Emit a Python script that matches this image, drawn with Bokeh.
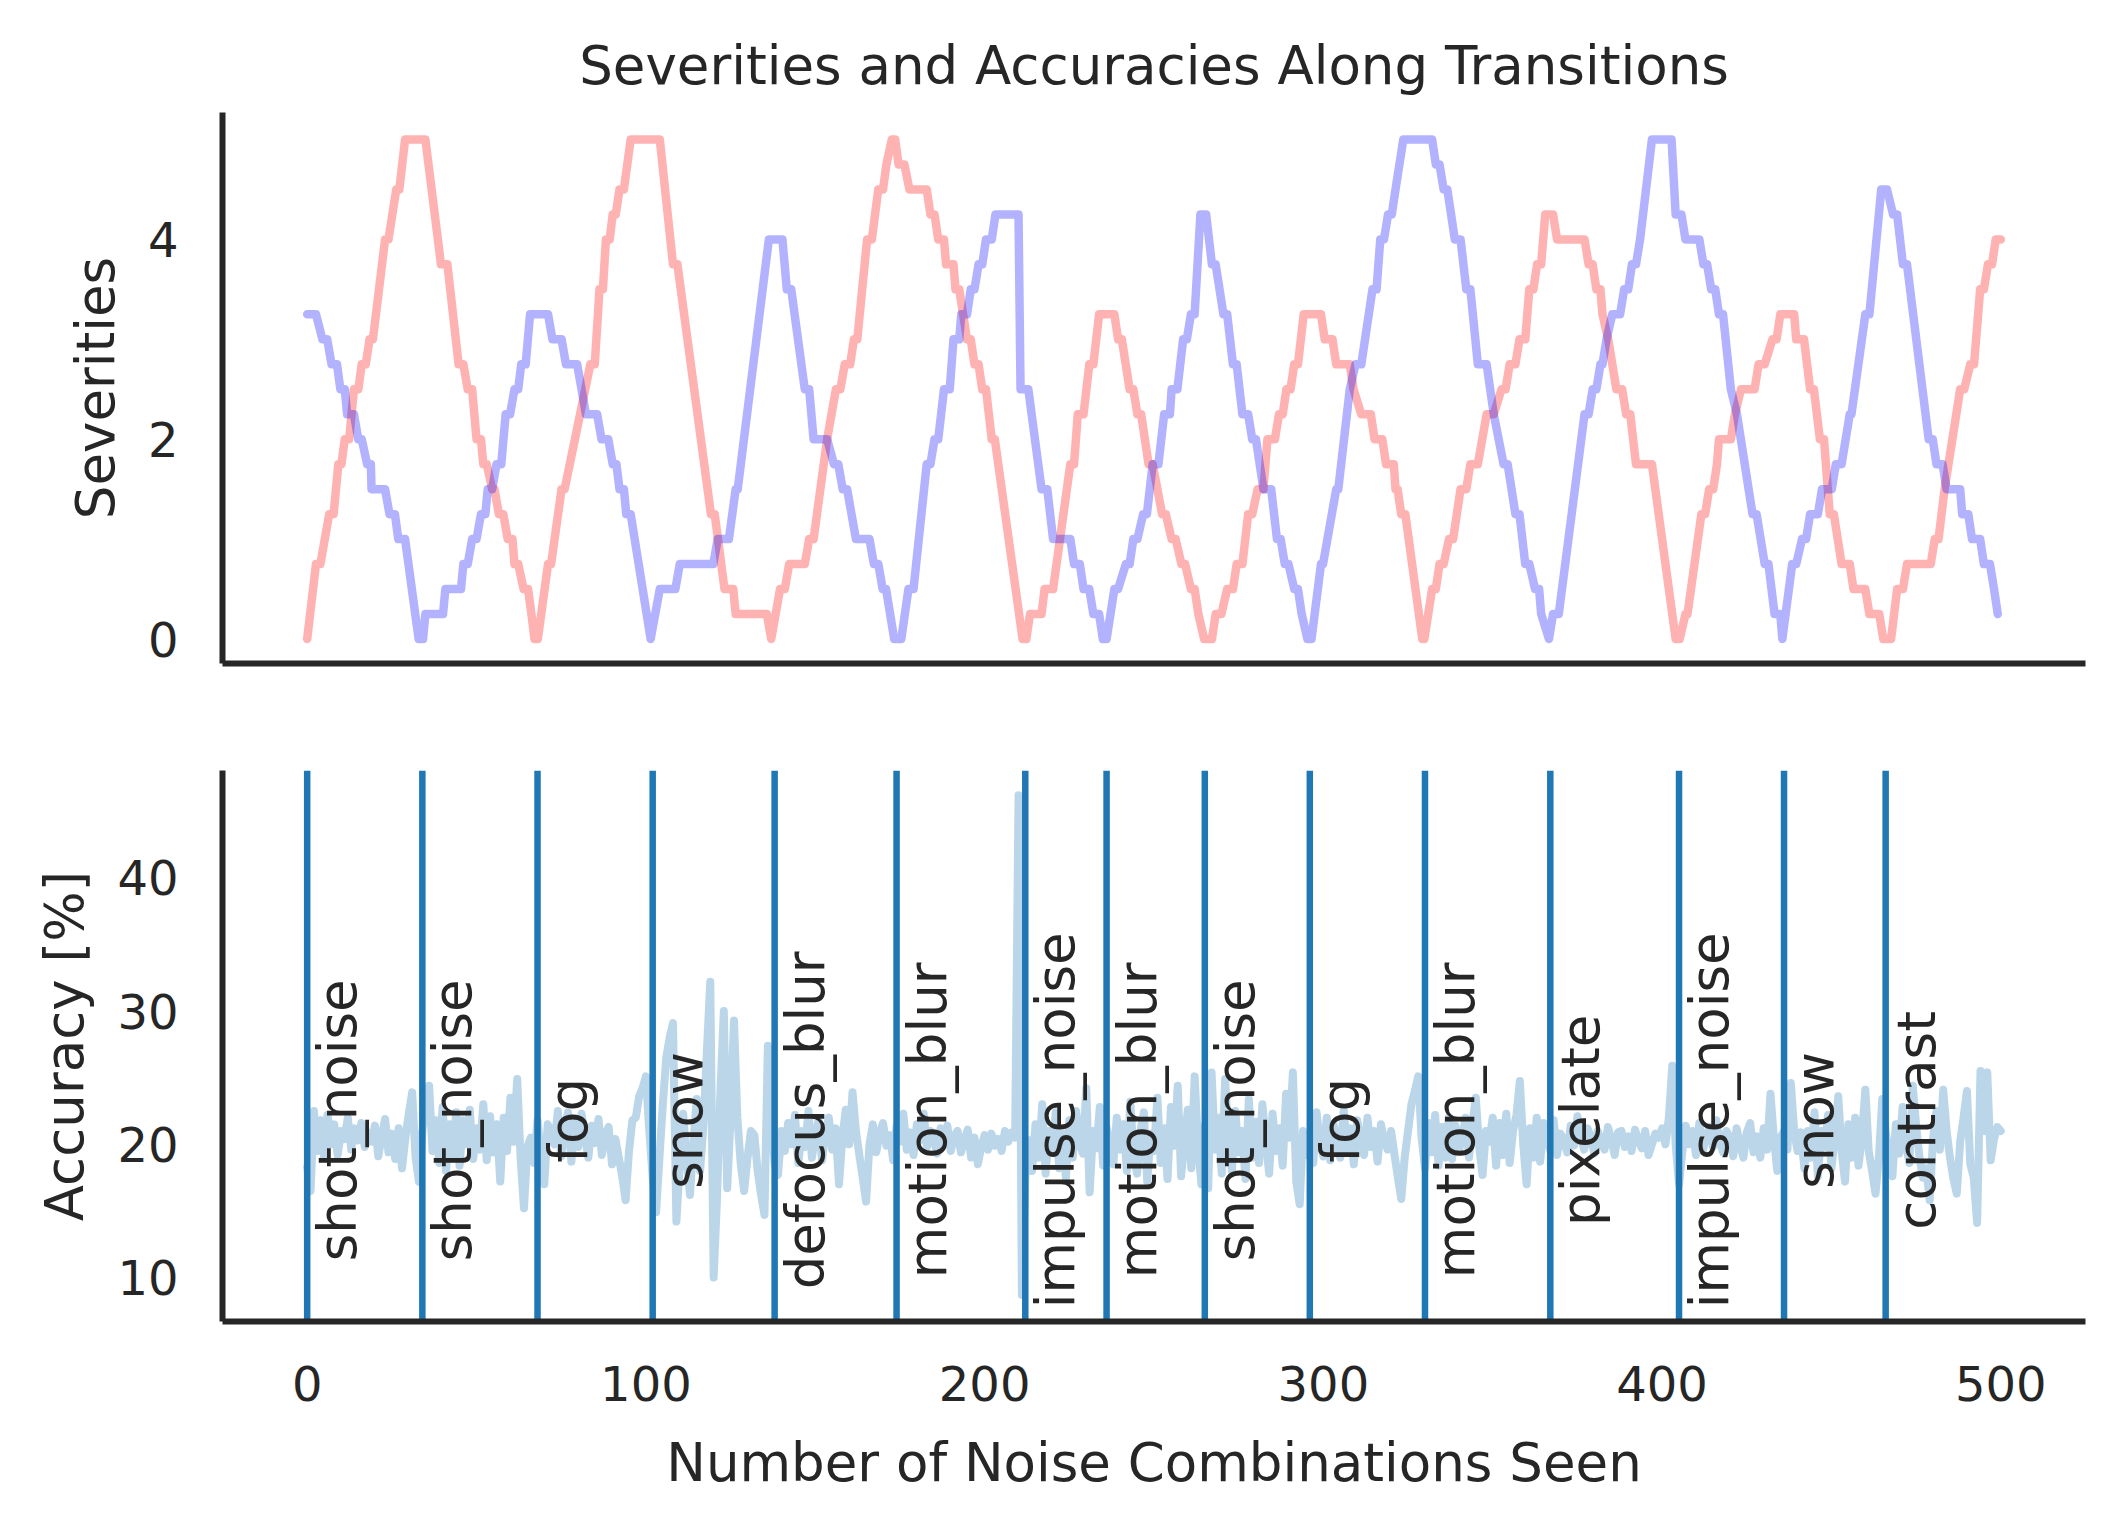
import math
from bokeh.plotting import figure
from bokeh.layouts import column
from bokeh.models import Range1d, FixedTicker
from bokeh.embed import file_html
from bokeh.resources import INLINE
from bokeh.core.properties import value

# ---------------- data ----------------
# severity curves as (x, severity) corner points of the step-like polylines
red_vertices = [
    (0, 0), (2.6, 0.75), (3.9, 0.75), (6.5, 1.25), (7.8, 1.25), (9.2, 1.75), (10.1, 1.75), (11.1, 2.0), (12.4, 2.0),
    (13.8, 2.5), (15.1, 2.5), (16.1, 2.75), (17.3, 2.75), (18.4, 3.0), (19.4, 3.0), (23.0, 4.0), (24.0, 4.0),
    (26.3, 4.5), (27.2, 4.5), (28.9, 5.0), (34.9, 5.0), (39.5, 3.75), (41.4, 3.75), (44.7, 2.75), (46.1, 2.75),
    (47.4, 2.5), (48.7, 2.5), (50.0, 2.0), (51.3, 2.0), (52.0, 1.75), (53.0, 1.75), (54.6, 1.5), (55.3, 1.5),
    (56.6, 1.25), (57.9, 1.25), (59.2, 1.0), (60.6, 1.0), (61.2, 0.75), (62.3, 0.75), (63.9, 0.5), (65.2, 0.5),
    (66.2, 0.25), (67.1, 0), (68.1, 0), (71.1, 0.75), (72.0, 0.75), (75.1, 1.5), (76.0, 1.5), (83.6, 2.75),
    (84.9, 2.75), (86.3, 3.5), (87.3, 3.5), (88.2, 4.0), (89.3, 4.0), (90.2, 4.25), (91.1, 4.25), (92.2, 4.5),
    (93.5, 4.5), (95.5, 5.0), (104.1, 5.0), (108.0, 3.75), (109.3, 3.75), (119.2, 1.25), (120.3, 1.25),
    (123.2, 0.5), (125.8, 0.5), (126.5, 0.25), (135.7, 0.25), (137.0, 0), (139.6, 0.5), (141.0, 0.5),
    (142.3, 0.75), (146.9, 0.75), (148.2, 1.0), (149.5, 1.0), (153.5, 2.0), (156.1, 2.5), (157.4, 2.5),
    (158.7, 2.75), (160.3, 2.75), (161.4, 3.0), (162.4, 3.0), (165.3, 4.0), (166.7, 4.0), (168.6, 4.5),
    (170.0, 4.5), (171.0, 4.75), (172.6, 5.0), (173.6, 5.0), (174.6, 4.75), (176.3, 4.75), (177.8, 4.5),
    (182.9, 4.5), (184.0, 4.25), (185.2, 4.25), (186.3, 4.0), (188.0, 4.0), (188.6, 3.75), (190.8, 3.75),
    (191.4, 3.5), (192.5, 3.5), (194.8, 3.0), (195.9, 3.0), (197.0, 2.75), (198.2, 2.75), (199.3, 2.5),
    (200.4, 2.5), (202.1, 2.0), (203.0, 2.0), (211.2, 0), (212.3, 0), (213.4, 0.25), (216.8, 0.25),
    (217.7, 0.5), (220.2, 0.5), (225.3, 1.75), (226.4, 1.75), (227.5, 2.25), (229.2, 2.25), (230.9, 2.75),
    (232.1, 2.75), (233.8, 3.25), (238.3, 3.25), (239.4, 3.0), (240.5, 3.0), (242.8, 2.5), (243.9, 2.5),
    (245.1, 2.25), (246.2, 2.25), (248.4, 1.75), (249.6, 1.75), (252.4, 1.25), (253.5, 1.25), (255.2, 1.0),
    (256.4, 1.0), (258.1, 0.75), (259.2, 0.75), (260.9, 0.5), (262.0, 0.5), (263.1, 0.25), (264.8, 0),
    (267.1, 0), (268.2, 0.25), (269.9, 0.25), (271.6, 0.5), (273.3, 0.5), (274.4, 0.75), (276.1, 0.75),
    (277.8, 1.25), (279.0, 1.25), (280.6, 1.5), (282.3, 1.5), (283.5, 2.0), (285.7, 2.0), (286.9, 2.25),
    (288.0, 2.25), (289.1, 2.5), (290.3, 2.5), (291.4, 2.75), (292.5, 2.75), (294.2, 3.25), (299.3, 3.25),
    (300.4, 3.0), (302.7, 3.0), (303.8, 2.75), (307.8, 2.75), (308.9, 2.5), (311.2, 2.25), (314.0, 2.25),
    (315.1, 2.0), (317.4, 2.0), (318.5, 1.75), (320.8, 1.75), (321.3, 1.5), (321.9, 1.5), (323.0, 1.25),
    (324.2, 1.25), (329.2, 0), (329.8, 0), (332.1, 0.5), (333.2, 0.5), (334.3, 0.75), (335.5, 0.75),
    (337.1, 1.0), (338.3, 1.0), (340.5, 1.5), (342.2, 1.5), (343.4, 1.75), (345.6, 1.75), (348.2, 2.25),
    (350.3, 2.25), (352.6, 2.5), (353.8, 2.5), (355.0, 2.75), (356.7, 2.75), (357.9, 3.0), (359.6, 3.0),
    (360.8, 3.5), (362.0, 3.5), (363.1, 3.75), (364.3, 3.75), (365.5, 4.25), (367.8, 4.25), (369.0, 4.0),
    (377.1, 4.0), (378.3, 3.75), (379.5, 3.75), (380.6, 3.5), (381.8, 3.5), (382.4, 3.25), (384.1, 3.0),
    (386.5, 2.5), (388.2, 2.5), (389.4, 2.25), (390.6, 2.25), (392.3, 1.75), (397.0, 1.75), (404.0, 0),
    (405.2, 0), (406.9, 0.25), (407.5, 0.25), (411.6, 1.25), (412.7, 1.25), (413.9, 1.5), (415.1, 1.5),
    (416.2, 1.75), (416.8, 2.0), (420.3, 2.0), (421.5, 2.25), (423.3, 2.5), (427.3, 2.5), (428.5, 2.75),
    (430.3, 2.75), (432.6, 3.0), (433.8, 3.0), (434.9, 3.25), (439.0, 3.25), (439.6, 3.0), (441.9, 3.0),
    (443.7, 2.5), (444.8, 2.5), (446.6, 2.0), (447.8, 2.0), (449.5, 1.25), (450.7, 1.25), (453.0, 0.75),
    (455.4, 0.75), (456.5, 0.5), (460.0, 0.5), (461.2, 0.25), (464.1, 0.25), (465.3, 0), (467.6, 0),
    (469.4, 0.5), (471.1, 0.5), (472.3, 0.75), (479.3, 0.75), (480.5, 1.0), (481.6, 1.0), (483.4, 1.5),
    (488.0, 2.5), (489.2, 2.5), (491.0, 2.75), (492.1, 2.75), (493.9, 3.5), (495.0, 3.5), (496.2, 3.75),
    (497.4, 3.75), (498.5, 4.0), (500.0, 4.0),
]

blue_vertices = [
    (0, 3.25), (2.6, 3.25), (4.5, 3.0), (5.9, 3.0), (7.2, 2.75), (8.8, 2.75), (9.8, 2.5), (11.1, 2.5),
    (11.8, 2.25), (13.8, 2.25), (15.1, 2.0), (16.1, 2.0), (17.7, 1.75), (18.8, 1.75), (19.0, 1.5), (23.0, 1.5),
    (24.3, 1.25), (25.9, 1.25), (26.9, 1.0), (28.9, 1.0), (32.9, 0), (34.2, 0), (34.9, 0.25), (40.1, 0.25),
    (40.8, 0.5), (45.4, 0.5), (46.1, 0.75), (47.4, 0.75), (48.7, 1.0), (50.0, 1.0), (51.3, 1.25), (52.6, 1.25),
    (53.3, 1.5), (54.6, 1.5), (55.9, 1.75), (57.3, 1.75), (58.6, 2.25), (59.9, 2.25), (61.2, 2.5), (62.3, 2.5),
    (63.2, 2.75), (64.5, 2.75), (65.8, 3.25), (71.1, 3.25), (72.4, 3.0), (75.1, 3.0), (76.4, 2.75),
    (79.7, 2.75), (81.0, 2.5), (82.3, 2.25), (85.6, 2.25), (86.9, 2.0), (88.9, 2.0), (90.2, 1.75),
    (91.3, 1.75), (92.2, 1.5), (93.5, 1.5), (94.2, 1.25), (95.5, 1.25), (101.4, 0), (104.1, 0.5),
    (108.7, 0.5), (110.0, 0.75), (119.9, 0.75), (121.2, 1.0), (124.5, 1.0), (126.5, 1.5), (127.1, 1.5),
    (136.3, 4.0), (140.3, 4.0), (141.6, 3.5), (142.9, 3.5), (146.9, 2.5), (148.2, 2.5), (149.5, 2.0),
    (153.5, 2.0), (155.5, 1.75), (156.8, 1.75), (158.1, 1.5), (159.4, 1.5), (160.7, 1.25), (162.0, 1.0),
    (166.0, 1.0), (167.3, 0.75), (168.6, 0.75), (169.9, 0.5), (170.9, 0.5), (173.3, 0), (175.4, 0),
    (177.5, 0.5), (179.0, 0.5), (182.9, 1.75), (184.0, 1.75), (185.2, 2.0), (186.3, 2.0), (188.0, 2.5),
    (189.7, 2.5), (190.8, 3.0), (192.5, 3.0), (193.1, 3.25), (194.8, 3.25), (195.9, 3.5), (197.0, 3.5),
    (198.2, 3.75), (199.3, 3.75), (200.4, 4.0), (202.1, 4.0), (203.2, 4.25), (210.0, 4.25), (210.6, 2.5),
    (212.9, 2.5), (216.8, 1.5), (218.5, 1.5), (220.2, 1.0), (225.3, 1.0), (226.4, 0.75), (228.1, 0.75),
    (229.2, 0.5), (230.9, 0.5), (232.1, 0.25), (233.8, 0.25), (234.9, 0), (236.0, 0), (238.3, 0.5),
    (239.4, 0.5), (241.7, 0.75), (242.8, 0.75), (243.9, 1.0), (245.1, 1.0), (246.8, 1.25), (247.9, 1.25),
    (249.6, 1.75), (251.3, 1.75), (253.0, 2.25), (254.7, 2.25), (255.2, 2.5), (256.9, 2.5), (258.6, 3.0),
    (259.7, 3.0), (260.9, 3.25), (262.0, 3.25), (263.7, 4.25), (265.4, 4.25), (267.1, 3.75), (268.2, 3.75),
    (270.5, 3.25), (271.6, 3.25), (273.3, 2.75), (274.4, 2.75), (276.1, 2.25), (277.8, 2.25), (279.0, 2.0),
    (280.1, 2.0), (282.3, 1.5), (284.6, 1.5), (286.3, 1.0), (287.4, 1.0), (288.6, 0.75), (289.7, 0.75),
    (291.4, 0.5), (292.5, 0.5), (293.6, 0.25), (295.3, 0), (296.5, 0), (299.3, 0.75), (299.9, 0.75),
    (303.8, 1.5), (304.4, 1.5), (307.8, 2.5), (309.5, 2.75), (311.2, 2.75), (314.5, 3.5), (315.7, 3.5),
    (316.8, 4.0), (317.9, 4.0), (319.1, 4.25), (320.2, 4.25), (321.3, 4.5), (323.6, 5.0), (332.1, 5.0),
    (333.2, 4.75), (334.3, 4.75), (335.5, 4.5), (336.6, 4.5), (338.8, 4.0), (340.5, 4.0), (342.2, 3.5),
    (343.4, 3.5), (345.6, 2.75), (348.2, 2.75), (350.3, 2.25), (353.2, 1.75), (354.4, 1.75), (356.7, 1.25),
    (357.9, 1.25), (359.6, 0.75), (360.8, 0.75), (362.5, 0.5), (363.7, 0.5), (364.3, 0.25), (366.6, 0),
    (367.8, 0.25), (369.5, 0.25), (377.1, 2.25), (378.3, 2.25), (379.5, 2.5), (380.6, 2.5), (381.8, 2.75),
    (382.4, 2.75), (383.6, 3.0), (385.3, 3.25), (387.6, 3.25), (388.8, 3.5), (390.0, 3.5), (391.1, 3.75),
    (392.3, 3.75), (393.5, 4.0), (397.0, 5.0), (402.8, 5.0), (404.0, 4.25), (405.7, 4.25), (406.9, 4.0),
    (411.0, 4.0), (412.2, 3.75), (413.3, 3.75), (414.5, 3.5), (415.7, 3.5), (416.8, 3.25), (418.0, 3.25),
    (420.3, 2.5), (422.1, 2.25), (426.7, 1.25), (427.9, 1.25), (430.3, 0.75), (431.4, 0.75), (433.2, 0.25),
    (434.9, 0.25), (435.5, 0), (438.4, 0.75), (439.6, 0.75), (441.3, 1.0), (442.5, 1.0), (443.7, 1.25),
    (446.0, 1.25), (447.2, 1.5), (450.1, 1.5), (451.3, 1.75), (453.0, 1.75), (455.4, 2.25), (455.9, 2.25),
    (460.0, 3.25), (461.2, 3.25), (464.7, 4.5), (466.4, 4.5), (468.2, 4.25), (469.4, 4.25), (471.1, 3.75),
    (472.3, 3.75), (478.7, 2.0), (479.9, 2.0), (481.0, 1.75), (482.8, 1.75), (484.0, 1.5), (488.0, 1.5),
    (488.6, 1.25), (490.4, 1.25), (491.5, 1.0), (493.9, 1.0), (495.0, 0.75), (496.8, 0.75), (498.0, 0.5),
    (499.1, 0.25),
]

# accuracy [%] after each noise combination (index 0..500)
accuracy = [
    18.3, 16.5, 22.5, 19.5, 21.8, 19.0, 22.2, 20.0, 21.5, 19.2, 21.0, 20.4, 22.0, 19.6, 21.2, 20.3, 21.6, 19.8, 20.9, 20.2,
    21.4, 19.1, 20.6, 21.9, 19.4, 20.8, 18.9, 21.2, 18.2, 20.5, 22.3, 23.9, 19.0, 17.2, 21.0, 23.0, 24.4, 19.5, 21.8, 18.6,
    22.8, 18.0, 21.5, 19.2, 22.4, 18.4, 21.8, 20.0, 22.6, 18.9, 21.2, 19.6, 23.0, 18.8, 22.1, 19.4, 21.5, 17.2, 22.0, 19.5,
    23.5, 20.2, 24.9, 19.0, 15.2, 19.8, 20.5, 18.6, 21.8, 19.2, 17.0, 21.5, 21.0, 20.0, 22.5, 19.1, 21.3, 22.4, 18.7, 21.8,
    19.8, 22.3, 20.6, 19.0, 21.4, 20.1, 21.9, 19.2, 20.8, 21.3, 18.5, 20.4, 19.0, 17.6, 15.8, 19.5, 21.8, 22.0, 23.6, 24.2,
    25.1, 21.0, 17.5, 14.9, 19.0, 23.0, 26.5, 28.0, 29.1, 14.2, 18.5, 22.3, 19.0, 16.2, 20.0, 23.4, 18.0, 21.5, 27.0, 32.2,
    10.0, 16.0, 24.0, 30.0, 16.7, 22.0, 29.3, 22.0, 18.5, 16.5, 19.0, 21.0, 20.7, 18.0, 16.2, 14.7, 27.4, 22.0, 18.5, 17.7,
    21.0, 19.5, 21.6, 20.0, 22.2, 18.6, 21.0, 19.8, 22.5, 19.0, 20.6, 21.8, 18.8, 20.9, 22.0, 19.6, 21.2, 17.0, 20.5, 22.6,
    20.0, 23.9, 21.0, 19.2, 17.5, 15.7, 20.0, 21.5, 19.4, 20.8, 21.6, 19.9, 20.7, 18.8, 21.4, 20.2, 22.3, 19.6, 20.9, 19.2,
    21.5, 20.3, 22.3, 19.8, 21.0, 20.4, 19.3, 21.2, 20.0, 21.4, 19.5, 20.6, 21.0, 19.4, 20.3, 21.1, 19.0, 20.5, 18.5, 19.8,
    20.7, 19.6, 20.8, 19.9, 20.4, 19.5, 21.0, 20.2, 20.9, 20.5, 46.2, 8.7, 17.5, 20.3, 18.0, 21.5, 19.0, 23.0, 17.8, 21.0,
    19.5, 22.4, 18.2, 20.8, 17.5, 21.8, 19.0, 22.5, 20.1, 19.3, 24.2, 16.4, 21.0, 19.7, 22.8, 18.4, 21.3, 20.0, 18.5, 22.0,
    19.6, 21.5, 18.0, 23.2, 19.3, 17.8, 21.0, 22.4, 17.2, 20.8, 19.5, 23.5, 18.6, 21.2, 17.4, 22.8, 19.9, 24.4, 17.6, 20.3,
    22.6, 18.2, 25.1, 19.8, 17.0, 21.4, 16.7, 25.4, 19.6, 22.0, 17.8, 24.9, 20.2, 18.0, 22.5, 19.4, 21.0, 17.4, 23.4, 19.0,
    21.7, 18.6, 23.0, 20.2, 17.8, 22.3, 19.5, 21.2, 18.4, 23.8, 20.5, 25.4, 17.2, 15.5, 21.0, 19.2, 20.8, 18.6, 22.4, 20.0,
    19.1, 22.0, 18.8, 21.5, 20.3, 19.0, 22.6, 19.6, 21.2, 18.5, 21.8, 20.4, 19.2, 22.0, 19.8, 21.0, 18.7, 21.5, 20.2, 19.6,
    21.0, 19.2, 17.5, 15.9, 19.0, 21.0, 23.0, 24.0, 25.1, 20.5, 18.2, 21.6, 19.4, 22.2, 18.4, 21.3, 19.0, 22.0, 18.9, 21.4,
    19.5, 20.6, 22.0, 19.0, 21.5, 23.5, 19.8, 17.7, 21.0, 20.2, 22.0, 18.4, 21.6, 19.2, 22.3, 18.6, 21.0, 22.2, 24.75, 20.0,
    17.0, 21.2, 19.0, 22.0, 18.7, 21.6, 20.4, 19.5, 21.8, 19.2, 20.8, 20.3, 19.4, 21.4, 19.9, 22.1, 20.6, 19.6, 21.2, 20.5,
    19.3, 21.0, 20.2, 19.6, 21.3, 20.4, 19.2, 20.9, 21.0, 19.8, 20.6, 19.5, 21.1, 20.3, 19.7, 21.0, 19.2, 20.0, 20.8, 20.5,
    21.2, 20.0, 22.0, 25.9, 20.0, 17.0, 19.5, 21.4, 20.0, 21.0, 19.2, 21.6, 19.5, 20.6, 21.3, 19.8, 21.8, 20.2, 19.4, 21.0,
    20.5, 19.1, 21.2, 20.0, 19.0, 20.9, 21.6, 19.4, 20.6, 19.0, 21.2, 19.6, 23.8, 20.5, 18.0, 20.5, 21.0, 19.6, 24.6, 21.0,
    19.5, 20.9, 18.2, 21.0, 19.0, 22.4, 17.6, 21.0, 19.8, 22.2, 18.2, 20.5, 23.6, 19.5, 17.2, 21.5, 19.0, 22.0, 18.4, 20.6,
    24.1, 19.5, 18.0, 16.3, 19.0, 23.4, 21.0, 19.2, 17.6, 21.5, 19.3, 22.8, 20.0, 18.6, 24.4, 21.4, 19.0, 17.5, 18.2, 15.8,
    20.5, 22.5, 19.6, 24.1, 21.0, 19.0, 17.4, 16.3, 20.2, 22.0, 24.0, 18.5, 17.5, 14.1, 25.5, 21.0, 25.4, 18.8, 20.4, 21.3,
    21.0,
]
combination_index = list(range(len(accuracy)))

transition_x = [0, 34, 68, 102, 138, 174, 212, 236, 265, 296, 330, 367, 405, 436, 466]
transition_names = ["shot_noise", "shot_noise", "fog", "snow", "defocus_blur", "motion_blur",
                    "impulse_noise", "motion_blur", "shot_noise", "fog", "motion_blur", "pixelate",
                    "impulse_noise", "snow", "contrast"]

severity_ticks = [0, 2, 4]
accuracy_ticks = [10, 20, 30, 40]
x_ticks = [0, 100, 200, 300, 400, 500]

# ---------------- styling ----------------
FONT = "DejaVu Sans"
TXT = "#262626"
TICK_FS = "48px"
LABEL_FS = "53px"

red_x = [v[0] for v in red_vertices]
red_y = [v[1] for v in red_vertices]
blue_x = [v[0] for v in blue_vertices]
blue_y = [v[1] for v in blue_vertices]

x_range = Range1d(-25, 525)


def style_axes(p):
    p.grid.visible = False
    p.outline_line_color = None
    p.background_fill_color = "white"
    p.border_fill_color = "white"
    for ax in (p.xaxis[0], p.yaxis[0]):
        ax.axis_line_color = TXT
        ax.axis_line_width = 6
        ax.major_tick_line_color = None
        ax.minor_tick_line_color = None
        ax.major_tick_out = 0
        ax.major_tick_in = 0
        ax.minor_tick_out = 0
        ax.minor_tick_in = 0
        ax.major_label_text_font = FONT
        ax.major_label_text_font_size = TICK_FS
        ax.major_label_text_color = TXT
        ax.axis_label_text_font = FONT
        ax.axis_label_text_font_size = LABEL_FS
        ax.axis_label_text_font_style = "normal"
        ax.axis_label_text_color = TXT


# ---------------- top: severities ----------------
p1 = figure(width=2106, height=719, output_backend="svg", toolbar_location=None,
            x_range=x_range, y_range=Range1d(-0.245, 5.27),
            min_border_left=222, min_border_right=21, min_border_top=112, min_border_bottom=56)
style_axes(p1)
p1.title.text = "Severities and Accuracies Along Transitions"
p1.title.align = "center"
p1.title.text_font = FONT
p1.title.text_font_size = LABEL_FS
p1.title.text_font_style = "normal"
p1.title.text_color = TXT
p1.title.standoff = 33
p1.xaxis.ticker = FixedTicker(ticks=[])
p1.yaxis.ticker = FixedTicker(ticks=severity_ticks)
p1.yaxis.major_label_standoff = 44
p1.yaxis.axis_label = "Severities"
p1.yaxis.axis_label_standoff = 19

p1.line(red_x, red_y, line_color="red", line_alpha=0.3, line_width=8.5,
        line_join="round", line_cap="round")
p1.line(blue_x, blue_y, line_color="blue", line_alpha=0.3, line_width=8.5,
        line_join="round", line_cap="round")

# ---------------- bottom: accuracy ----------------
acc_lo, acc_hi = 6.7, 48.06
p2 = figure(width=2106, height=795, output_backend="svg", toolbar_location=None,
            x_range=x_range, y_range=Range1d(acc_lo, acc_hi),
            min_border_left=222, min_border_right=21, min_border_top=51, min_border_bottom=193)
style_axes(p2)
p2.xaxis.ticker = FixedTicker(ticks=x_ticks)
p2.xaxis.major_label_standoff = 44
p2.xaxis.axis_label = "Number of Noise Combinations Seen"
p2.xaxis.axis_label_standoff = 28
p2.yaxis.ticker = FixedTicker(ticks=accuracy_ticks)
p2.yaxis.major_label_standoff = 44
p2.yaxis.axis_label = "Accuracy [%]"
p2.yaxis.axis_label_standoff = 19

p2.line(combination_index, accuracy, line_color="#1f77b4", line_alpha=0.3, line_width=8,
        line_join="round", line_cap="round")
p2.segment(x0=transition_x, y0=acc_lo, x1=transition_x, y1=acc_hi,
           line_color="#1f77b4", line_width=6.5)
p2.text(x=transition_x, y=21.8, text=transition_names, angle=math.pi / 2,
        text_align="center", text_baseline="top", text_font=value(FONT),
        text_font_size=LABEL_FS, text_color=TXT)

layout = column(p1, p2)
open("out.html", "w").write(file_html(layout, INLINE))
